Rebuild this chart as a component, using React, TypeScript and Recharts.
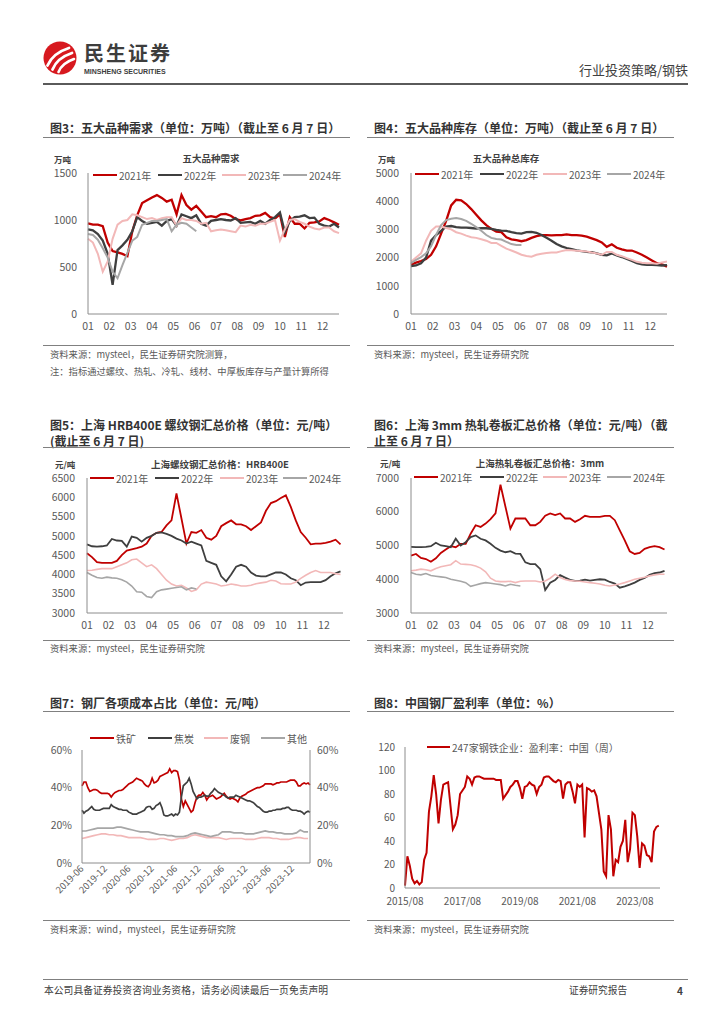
import React from 'react';
import { LineChart, Line, XAxis, YAxis } from 'recharts';

const FONT = '"Noto Sans CJK SC", "Noto Sans", sans-serif';
const RED = '#C00000';
const DARK = '#3F3F3F';
const PINK = '#F2B8B8';
const GRAY = '#A6A6A6';
const AXIS = '#8C8C8C';
const TICK = '#595959';
const RULE = '#808080';

// ---------- shared tick labels ----------
const MONTHS = ['01', '02', '03', '04', '05', '06', '07', '08', '09', '10', '11', '12'];
const YEARS = ['2021年', '2022年', '2023年', '2024年'];
const WEEKS_PER_YEAR = 52;

// ---------- 图3 五大品种需求 (万吨, weekly) ----------
const demand2021 = [965, 950, 950, 935, 760, 670, 655, 640, 615, 880, 1050, 1180, 1210, 1240, 1265, 1235, 1195, 1215, 1060, 1265, 1160, 1110, 1150, 1090, 1030, 1040, 1030, 1060, 1065, 1045, 1010, 995, 1010, 1020, 1045, 1050, 1075, 1030, 1015, 1060, 820, 1030, 960, 960, 910, 970, 975, 985, 1020, 1000, 975, 950];
const demand2022 = [900, 890, 850, 780, 640, 310, 680, 730, 790, 880, 1030, 990, 960, 970, 980, 940, 990, 1010, 940, 1060, 1040, 1020, 1050, 960, 940, 990, 1000, 1010, 1000, 995, 1020, 970, 975, 980, 960, 990, 960, 1000, 1030, 1080, 870, 990, 1030, 1035, 1050, 1020, 1025, 960, 940, 930, 960, 920];
const demand2023 = [800, 760, 640, 450, 560, 800, 950, 990, 1000, 1060, 1050, 1030, 1010, 1020, 1000, 1020, 1030, 1030, 940, 1020, 1000, 1000, 990, 960, 970, 880, 890, 900, 890, 880, 870, 940, 930, 950, 940, 960, 960, 980, 1000, 780, 900, 1000, 1010, 980, 960, 930, 910, 900, 920, 920, 880, 860];
const demand2024 = [850, 840, 790, 700, 600, 450, 380, 520, 650, 780, 820, 950, 970, 990, 990, 1000, 1010, 880, 950, 970, 960, 920, 880];

// ---------- 图4 五大品种总库存 (万吨, weekly) ----------
const stock2021 = [1750, 1820, 1880, 1950, 2100, 2400, 2850, 3300, 3850, 4050, 4030, 3900, 3720, 3520, 3320, 3150, 3020, 2920, 2900, 2720, 2650, 2620, 2580, 2620, 2700, 2760, 2800, 2800, 2790, 2800, 2800, 2820, 2800, 2800, 2780, 2740, 2680, 2620, 2540, 2380, 2470, 2350, 2290, 2250, 2250, 2180, 2100, 2000, 1900, 1800, 1760, 1680];
const stock2022 = [1700, 1720, 1800, 2000, 2600, 2800, 2950, 3100, 3120, 3080, 3060, 3060, 3050, 3030, 3040, 3040, 3020, 2980, 2960, 2950, 2900, 2870, 2850, 2900, 2910, 2880, 2800, 2700, 2600, 2480, 2400, 2340, 2300, 2260, 2230, 2200, 2190, 2150, 2100, 2080, 2150, 2080, 2020, 1950, 1880, 1800, 1760, 1740, 1740, 1730, 1720, 1730];
const stock2023 = [1850, 2000, 2150, 2600, 2950, 3100, 3100, 3050, 3000, 2900, 2850, 2780, 2720, 2700, 2650, 2600, 2520, 2520, 2420, 2320, 2250, 2180, 2100, 2060, 2030, 2100, 2140, 2160, 2180, 2180, 2230, 2270, 2260, 2240, 2230, 2220, 2180, 2150, 2100, 2200, 2200, 2100, 2050, 1980, 1920, 1850, 1820, 1800, 1800, 1780, 1830, 1860];
const stock2024 = [1800, 1920, 2020, 2150, 2400, 2800, 3150, 3330, 3380, 3400, 3370, 3300, 3200, 3080, 2950, 2800, 2700, 2660, 2640, 2560, 2480, 2450, 2450];

// ---------- 图5 上海螺纹钢 HRB400E (元/吨, weekly) ----------
const rebar2021 = [4550, 4450, 4320, 4300, 4300, 4300, 4350, 4500, 4620, 4650, 4680, 4720, 4800, 5000, 5080, 5100, 5270, 5400, 6100, 5450, 4800, 5100, 5080, 5150, 4950, 4900, 5000, 5250, 5330, 5400, 5300, 5300, 5250, 5150, 5250, 5350, 5650, 5850, 5900, 5980, 6050, 5750, 5400, 5100, 4950, 4780, 4800, 4800, 4820, 4850, 4900, 4780];
const rebar2022 = [4780, 4730, 4720, 4730, 4750, 4920, 4880, 4870, 4720, 4980, 4950, 4850, 4950, 5000, 5080, 5090, 5050, 5000, 4930, 4880, 4800, 4850, 4800, 4750, 4350, 4300, 4250, 3950, 3820, 4000, 4200, 4250, 4200, 4050, 3970, 3950, 3950, 4000, 4050, 4050, 4000, 3900, 3850, 3720, 3790, 3800, 3800, 3800, 3850, 3950, 4030, 4080];
const rebar2023 = [4100, 4110, 4130, 4150, 4150, 4150, 4200, 4250, 4300, 4380, 4400, 4300, 4200, 4250, 4150, 4000, 3850, 3750, 3700, 3720, 3650, 3560, 3600, 3750, 3800, 3780, 3750, 3700, 3720, 3750, 3730, 3700, 3700, 3720, 3760, 3780, 3800, 3850, 3830, 3760, 3750, 3750, 3800, 3900, 3980, 4050, 4100, 4050, 4050, 4050, 4020, 4000];
const rebar2024 = [4050, 3980, 3920, 3900, 3930, 3910, 3900, 3860, 3800, 3700, 3550, 3540, 3430, 3400, 3550, 3600, 3620, 3640, 3660, 3680, 3600, 3650, 3620];

// ---------- 图6 上海热轧卷板 3mm (元/吨, weekly) ----------
const hrc2021 = [4700, 4750, 4630, 4600, 4520, 4620, 4780, 4880, 4980, 4950, 5050, 5050, 5350, 5600, 5550, 5650, 5780, 5950, 6800, 6150, 5500, 5800, 5800, 5800, 5600, 5600, 5700, 5880, 5950, 5900, 5950, 5800, 5800, 5700, 5780, 5880, 5850, 5850, 5850, 5880, 5880, 5750, 5450, 5150, 4830, 4750, 4780, 4900, 4950, 4980, 4950, 4880];
const hrc2022 = [4960, 4950, 4950, 4960, 4980, 5080, 5000, 4980, 4950, 5200, 5000, 5100, 5250, 5300, 5200, 5150, 5050, 4930, 4850, 4800, 4830, 4760, 4750, 4500, 4450, 4450, 4300, 3680, 3900, 3980, 4120, 4050, 3980, 3950, 3960, 3990, 3960, 3980, 4000, 3990, 3920, 3870, 3750, 3790, 3840, 3900, 3980, 4040, 4130, 4180, 4200, 4250];
const hrc2023 = [4250, 4270, 4300, 4280, 4250, 4320, 4370, 4400, 4430, 4550, 4450, 4440, 4430, 4390, 4330, 4220, 4030, 3950, 3930, 3930, 3940, 3900, 3940, 3950, 3950, 3950, 3920, 3950, 4030, 4150, 4050, 3990, 3960, 3950, 3940, 3920, 3900, 3880, 3860, 3820, 3800, 3830, 3860, 3900, 3950, 4000, 4030, 4060, 4100, 4130, 4150, 4150];
const hrc2024 = [4200, 4150, 4130, 4170, 4110, 4090, 4070, 4050, 4000, 3970, 3940, 3900, 3790, 3830, 3870, 3900, 3880, 3860, 3840, 3800, 3850, 3820, 3800];

// ---------- 图7 钢厂各项成本占比 (%, from 2019-06) ----------
const C7_LABELS = ['2019-06', '2019-12', '2020-06', '2020-12', '2021-06', '2021-12', '2022-06', '2022-12', '2023-06', '2023-12'];
const C7_NAMES = ['铁矿', '焦炭', '废钢', '其他'];
// half-monthly
const costIron = [41, 43, 43, 40, 38, 38.5, 39, 39, 38.5, 37.5, 37, 37, 37, 37, 36.5, 35, 36.5, 37.5, 38, 38.5, 38.5, 39, 40, 41, 42, 42.5, 43, 44, 45, 44.5, 44, 43.5, 42, 41, 40.5, 42, 45, 42.5, 43, 44, 46, 46.5, 47, 47.5, 48, 50, 48, 49, 49, 48.5, 44, 34, 30, 33, 31, 29, 27, 28, 32, 35, 36, 36, 37.5, 36, 33.5, 35, 35.5, 36, 35, 34, 34.5, 35, 36, 37, 35.5, 34.5, 34, 34.5, 34, 33.5, 32.5, 34.5, 35.5, 36, 36.5, 37.5, 38, 38.5, 39, 39.5, 40, 40, 40.5, 41, 42, 42, 42, 42, 41.5, 42, 42.5, 42.5, 43, 43, 43, 43, 43.5, 44, 44, 44, 43, 41, 41, 42, 42.5, 42, 42.5, 41.5];
const costCoke = [28, 26.5, 27.5, 28, 29, 30, 28.5, 28, 28, 28, 28.5, 29, 29, 29, 29, 31, 30, 29.5, 29, 28.5, 28.5, 28, 28, 28, 27, 26.5, 26, 26, 26, 26.5, 27, 27.5, 28, 29.5, 30, 30, 28.5, 29, 30.5, 31, 32, 29.5, 25.5, 25, 25, 25.5, 26, 25, 26, 25.5, 27, 35, 41, 42, 43, 45, 42, 38, 36, 34, 35, 35, 35.5, 36, 35.5, 35.5, 37, 38, 39.5, 38.5, 37.5, 37, 36.5, 36, 35, 34.5, 35, 35, 35, 36, 35.5, 35, 34.5, 34, 33.5, 33, 33, 32.5, 32, 31, 30, 29.5, 28.5, 27.5, 27, 27, 27.5, 27.5, 28, 28, 28.5, 28.5, 28.5, 29, 29, 29.5, 29.5, 28.5, 28, 28, 28, 27.5, 27.5, 27, 26, 27, 27.5, 27];
// monthly
const costScrap = [13, 13.5, 14, 14.5, 15, 15.5, 15.5, 15, 15, 14.5, 14.5, 14, 13.5, 13.5, 13.5, 13.5, 13, 12.5, 12.5, 12.5, 13, 13, 12.5, 12, 12.5, 13, 13, 13.5, 14.5, 15, 14.5, 14, 13.5, 13.5, 13.5, 13.5, 13, 12.5, 13, 13, 13, 13, 12.5, 12.5, 12.5, 13, 13.5, 13.5, 13.5, 13, 13, 12.5, 12.5, 12.5, 13, 13.5, 13.5, 13, 13];
const costOther = [17, 17, 17.5, 18, 18.5, 18.5, 18.5, 18.5, 18.5, 19, 19, 18.5, 18, 17.5, 17, 16.5, 16.5, 16.5, 16, 15.5, 15, 15, 14.5, 14.5, 14, 14, 14, 14.5, 15.5, 16, 15.5, 15, 14.5, 14, 14.5, 15, 16.5, 16.5, 16.5, 16, 16, 16, 15.5, 15.5, 15.5, 16, 16.5, 17, 16.5, 16.5, 16, 16, 15.5, 15.5, 15.5, 16, 17.5, 16.5, 16.5];

// ---------- 图8 中国钢厂盈利率 (%, monthly from 2015/08) ----------
const C8_LABELS = ['2015/08', '2017/08', '2019/08', '2021/08', '2023/08'];
const C8_NAME = '247家钢铁企业：盈利率：中国（周）';
const profitRate = [2, 27, 19, 8, 4, 6, 3, 5, 24, 30, 65, 78, 96, 80, 55, 75, 88, 89, 90, 70, 50, 54, 62, 80, 83, 86, 95, 93, 88, 94, 95, 95, 94, 93, 93, 93, 93, 93, 92, 92, 92, 76, 79, 82, 86, 88, 91, 91, 85, 76, 86, 87, 90, 88, 87, 80, 86, 88, 94, 95, 95, 93, 91, 90, 92, 91, 76, 88, 90, 90, 82, 72, 88, 86, 88, 43, 85, 84, 82, 83, 78, 64, 50, 14, 10, 62, 50, 10, 24, 22, 35, 40, 58, 22, 33, 64, 62, 44, 17, 38, 36, 28, 27, 22, 48, 52, 53];

// ---------- helpers ----------
const SEASON_COLORS = [RED, DARK, PINK, GRAY];
const SEASON_WIDTHS = [2.3, 2.3, 2, 2];
const monthTicks = MONTHS.map((_, m) => (m * WEEKS_PER_YEAR) / 12);

function seasonRows(series: number[][]) {
  const n = Math.max(...series.map((a) => a.length));
  const rows: any[] = [];
  for (let i = 0; i < n; i++) {
    const r: any = { x: i };
    series.forEach((a, j) => {
      if (i < a.length) r['s' + j] = a[i];
    });
    rows.push(r);
  }
  return rows;
}

function Txt({ x, y, size = 10, bold = false, color = '#404040', align = 'left', lh = 1.5, children }: any) {
  const h = Math.round(size * lh);
  const style: any = {
    position: 'absolute',
    top: y - h / 2,
    height: h,
    lineHeight: h + 'px',
    fontSize: size,
    fontWeight: bold ? 700 : 400,
    color,
    whiteSpace: 'nowrap',
    fontFamily: FONT,
  };
  if (align === 'left') style.left = x;
  else if (align === 'right') style.right = 724 - x;
  else {
    style.left = x - 200;
    style.width = 400;
    style.textAlign = 'center';
  }
  return <div style={style}>{children}</div>;
}

function HLine({ x, y, w, h = 1, color = RULE }: any) {
  return <div style={{ position: 'absolute', left: x, top: y, width: w, height: h, background: color }} />;
}

function LegendItem({ x, y, color, label, size = 10, lw = 24 }: any) {
  return (
    <>
      <div style={{ position: 'absolute', left: x, top: y - 1.25, width: lw, height: 2.5, background: color }} />
      <Txt x={x + lw + 2} y={y} size={size} color={TICK}>{label}</Txt>
    </>
  );
}

function SeasonChart({ plot, series, yDomain, yTicks, xMax, yGap, widths = SEASON_WIDTHS }: any) {
  const yW = 44;
  const mt = 8;
  const mr = 6;
  const xH = 26;
  const rows = seasonRows(series);
  return (
    <div style={{ position: 'absolute', left: plot.L - yW, top: plot.T - mt }}>
      <LineChart
        width={plot.R - plot.L + yW + mr}
        height={plot.B - plot.T + mt + xH}
        data={rows}
        margin={{ top: mt, right: mr, bottom: 0, left: 0 }}
      >
        <XAxis
          type="number"
          dataKey="x"
          domain={[0, xMax]}
          ticks={monthTicks}
          interval={0}
          tickFormatter={(v: number) => MONTHS[Math.round((v * 12) / WEEKS_PER_YEAR)]}
          height={xH}
          axisLine={{ stroke: AXIS, strokeWidth: 1 }}
          tickLine={false}
          tickSize={0}
          tickMargin={9}
          tick={{ fontSize: 10.5, fill: TICK, fontFamily: FONT }}
        />
        <YAxis
          type="number"
          domain={yDomain}
          ticks={yTicks}
          interval={0}
          width={yW}
          axisLine={{ stroke: AXIS, strokeWidth: 1 }}
          tickLine={false}
          tickSize={0}
          tickMargin={yGap}
          tick={{ fontSize: 10.5, fill: TICK, fontFamily: FONT }}
        />
        {series.map((_: any, j: number) => (
          <Line
            key={j}
            type="linear"
            dataKey={'s' + j}
            stroke={SEASON_COLORS[j]}
            strokeWidth={widths[j]}
            dot={false}
            activeDot={false}
            isAnimationActive={false}
          />
        ))}
      </LineChart>
    </div>
  );
}

function SeasonLegend({ xs, y }: any) {
  return (
    <>
      {YEARS.map((label, j) => (
        <LegendItem key={label} x={xs[j]} y={y} color={SEASON_COLORS[j]} label={label} />
      ))}
    </>
  );
}

const RotTick = (props: any) => {
  const { x, y, payload } = props;
  const label = C7_LABELS[Math.round(payload.value / 6)];
  return (
    <g transform={`translate(${x},${y})`}>
      <text x={0} y={0} dy="0.35em" textAnchor="end" transform="rotate(-45)" fontSize={9.5} fill={TICK} fontFamily={FONT}>
        {label}
      </text>
    </g>
  );
};

function CostChart() {
  const plot = { L: 82, T: 750, R: 310, B: 863 };
  const yW = 34;
  const yWR = 34;
  const mt = 8;
  const xH = 46;
  const rows: any[] = [];
  for (let k = 0; k < costIron.length; k++) {
    const r: any = { x: k / 2, iron: costIron[k], coke: costCoke[k] };
    if (k % 2 === 0 && k / 2 < costScrap.length) {
      r.scrap = costScrap[k / 2];
      r.other = costOther[k / 2];
    }
    rows.push(r);
  }
  const xt = C7_LABELS.map((_, i) => i * 6);
  const yt = [0, 20, 40, 60];
  const tickStyle = { fontSize: 10.5, fill: TICK, fontFamily: FONT };
  return (
    <div style={{ position: 'absolute', left: plot.L - yW, top: plot.T - mt }}>
      <LineChart
        width={plot.R - plot.L + yW + yWR}
        height={plot.B - plot.T + mt + xH}
        data={rows}
        margin={{ top: mt, right: 0, bottom: 0, left: 0 }}
      >
        <XAxis
          type="number"
          dataKey="x"
          domain={[0, 58.5]}
          ticks={xt}
          interval={0}
          height={xH}
          axisLine={{ stroke: AXIS }}
          tickLine={false}
          tickSize={0}
          tickMargin={4}
          tick={<RotTick />}
        />
        <YAxis
          yAxisId="l"
          type="number"
          domain={[0, 60]}
          ticks={yt}
          interval={0}
          width={yW}
          tickFormatter={(v: number) => v + '%'}
          axisLine={{ stroke: AXIS }}
          tickLine={false}
          tickSize={0}
          tickMargin={10}
          tick={tickStyle}
        />
        <YAxis
          yAxisId="r"
          orientation="right"
          type="number"
          domain={[0, 60]}
          ticks={yt}
          interval={0}
          width={yWR}
          tickFormatter={(v: number) => v + '%'}
          axisLine={{ stroke: AXIS }}
          tickLine={false}
          tickSize={0}
          tickMargin={7}
          tick={{ ...tickStyle, textAnchor: 'start' }}
        />
        <Line yAxisId="l" type="linear" dataKey="iron" stroke={RED} strokeWidth={1.7} dot={false} activeDot={false} isAnimationActive={false} />
        <Line yAxisId="l" type="linear" dataKey="coke" stroke={DARK} strokeWidth={1.7} dot={false} activeDot={false} isAnimationActive={false} />
        <Line yAxisId="l" type="linear" dataKey="scrap" stroke={PINK} strokeWidth={1.7} dot={false} activeDot={false} connectNulls isAnimationActive={false} />
        <Line yAxisId="r" type="linear" dataKey="other" stroke={GRAY} strokeWidth={1.7} dot={false} activeDot={false} connectNulls isAnimationActive={false} />
      </LineChart>
    </div>
  );
}

function ProfitChart() {
  const plot = { L: 405, T: 747, R: 660, B: 888 };
  const yW = 34;
  const mt = 8;
  const mr = 10;
  const xH = 26;
  const rows = profitRate.map((v, k) => ({ x: k, v }));
  const xt = C8_LABELS.map((_, i) => i * 24);
  return (
    <div style={{ position: 'absolute', left: plot.L - yW, top: plot.T - mt }}>
      <LineChart
        width={plot.R - plot.L + yW + mr}
        height={plot.B - plot.T + mt + xH}
        data={rows}
        margin={{ top: mt, right: mr, bottom: 0, left: 0 }}
      >
        <XAxis
          type="number"
          dataKey="x"
          domain={[0, 106.5]}
          ticks={xt}
          interval={0}
          tickFormatter={(v: number) => C8_LABELS[Math.round(v / 24)]}
          height={xH}
          axisLine={{ stroke: AXIS }}
          tickLine={false}
          tickSize={0}
          tickMargin={10}
          tick={{ fontSize: 10, fill: TICK, fontFamily: FONT }}
        />
        <YAxis
          type="number"
          domain={[0, 120]}
          ticks={[0, 20, 40, 60, 80, 100, 120]}
          interval={0}
          width={yW}
          axisLine={{ stroke: AXIS }}
          tickLine={false}
          tickSize={0}
          tickMargin={10}
          tick={{ fontSize: 10, fill: TICK, fontFamily: FONT }}
        />
        <Line type="linear" dataKey="v" stroke={RED} strokeWidth={2} dot={false} activeDot={false} isAnimationActive={false} />
      </LineChart>
    </div>
  );
}

function Logo() {
  return (
    <svg width={34} height={34} viewBox="0 0 34 34" style={{ position: 'absolute', left: 43, top: 41 }}>
      <circle cx={17} cy={17} r={16.5} fill="#D7191F" />
      <path d="M4.5 24.5 Q10 12 26 7" stroke="#fff" strokeWidth={2.8} fill="none" strokeLinecap="round" />
      <path d="M9.5 28.5 Q14 17 29 12" stroke="#fff" strokeWidth={2.8} fill="none" strokeLinecap="round" />
      <path d="M15.5 31 Q19 22 31 18" stroke="#fff" strokeWidth={2.6} fill="none" strokeLinecap="round" />
    </svg>
  );
}

export default function App() {
  const titleSize = 12;
  const titleColor = '#333333';
  const srcSize = 9.3;
  const srcColor = '#595959';
  return (
    <div
      style={{
        position: 'absolute',
        left: 0,
        top: 0,
        width: 724,
        height: 1024,
        background: '#ffffff',
        overflow: 'hidden',
        fontFamily: FONT,
      }}
    >
      {/* header */}
      <Logo />
      <div
        style={{
          position: 'absolute',
          left: 84,
          top: 38,
          height: 29,
          lineHeight: '29px',
          fontSize: 20,
          fontWeight: 700,
          letterSpacing: 2,
          color: '#3d3d3d',
          fontFamily: FONT,
          whiteSpace: 'nowrap',
        }}
      >
        民生证券
      </div>
      <div
        style={{
          position: 'absolute',
          left: 84,
          top: 67.5,
          fontSize: 7,
          lineHeight: '8px',
          height: 8,
          fontWeight: 700,
          color: '#3d3d3d',
          fontFamily: '"Liberation Sans", Arial, sans-serif',
          whiteSpace: 'nowrap',
        }}
      >
        MINSHENG SECURITIES
      </div>
      <Txt x={688} y={70} size={13} color="#404040" align="right">行业投资策略/钢铁</Txt>
      <HLine x={43} y={83} w={645} h={1.5} color="#5a5a5a" />

      {/* 图3 */}
      <Txt x={50} y={128} size={titleSize} bold color={titleColor}>图3：五大品种需求（单位：万吨）（截止至 6 月 7 日）</Txt>
      <HLine x={43} y={137} w={307} />
      <Txt x={54} y={159} size={8.5} bold color="#404040">万吨</Txt>
      <Txt x={211} y={158} size={9.5} bold color="#404040" align="center">五大品种需求</Txt>
      <SeasonChart
        plot={{ L: 88, T: 173, R: 339, B: 314 }}
        series={[demand2021, demand2022, demand2023, demand2024]}
        yDomain={[0, 1500]}
        yTicks={[0, 500, 1000, 1500]}
        xMax={51}
        yGap={11}
      />
      <SeasonLegend xs={[93, 158, 222, 283]} y={175} />
      <HLine x={43} y={345} w={307} />
      <Txt x={50} y={354} size={srcSize} color={srcColor}>资料来源：mysteel，民生证券研究院测算，</Txt>
      <Txt x={50} y={371} size={srcSize} color={srcColor}>注：指标通过螺纹、热轧、冷轧、线材、中厚板库存与产量计算所得</Txt>

      {/* 图4 */}
      <Txt x={374} y={128} size={titleSize} bold color={titleColor}>图4：五大品种库存（单位：万吨）（截止至 6 月 7 日）</Txt>
      <HLine x={367} y={137} w={307} />
      <Txt x={378} y={159} size={8.5} bold color="#404040">万吨</Txt>
      <Txt x={506} y={158} size={9.5} bold color="#404040" align="center">五大品种总库存</Txt>
      <SeasonChart
        plot={{ L: 411, T: 173, R: 667, B: 314 }}
        series={[stock2021, stock2022, stock2023, stock2024]}
        yDomain={[0, 5000]}
        yTicks={[0, 1000, 2000, 3000, 4000, 5000]}
        xMax={51}
        yGap={12}
      />
      <SeasonLegend xs={[415, 480, 543, 607]} y={174} />
      <HLine x={367} y={345} w={307} />
      <Txt x={374} y={354} size={srcSize} color={srcColor}>资料来源：mysteel，民生证券研究院</Txt>

      {/* 图5 */}
      <Txt x={50} y={425} size={titleSize} bold color={titleColor}>图5：上海 HRB400E 螺纹钢汇总价格（单位：元/吨）</Txt>
      <Txt x={50} y={441} size={titleSize} bold color={titleColor}>(截止至 6 月 7 日)</Txt>
      <HLine x={43} y={447} w={307} />
      <Txt x={55} y={464} size={8.5} bold color="#404040">元/吨</Txt>
      <Txt x={220} y={464} size={9.5} bold color="#404040" align="center">上海螺纹钢汇总价格：HRB400E</Txt>
      <SeasonChart
        plot={{ L: 87, T: 478, R: 343, B: 613 }}
        series={[rebar2021, rebar2022, rebar2023, rebar2024]}
        yDomain={[3000, 6500]}
        yTicks={[3000, 3500, 4000, 4500, 5000, 5500, 6000, 6500]}
        xMax={51.5}
        yGap={12}
        widths={[1.8, 1.8, 1.6, 1.6]}
      />
      <SeasonLegend xs={[90, 155, 220, 283]} y={478} />
      <HLine x={43} y={640} w={307} />
      <Txt x={50} y={648} size={srcSize} color={srcColor}>资料来源：mysteel，民生证券研究院</Txt>

      {/* 图6 */}
      <Txt x={374} y={425} size={titleSize} bold color={titleColor}>图6：上海 3mm 热轧卷板汇总价格（单位：元/吨）（截</Txt>
      <Txt x={374} y={441} size={titleSize} bold color={titleColor}>止至 6 月 7 日）</Txt>
      <HLine x={367} y={447} w={307} />
      <Txt x={380} y={463} size={8.5} bold color="#404040">元/吨</Txt>
      <Txt x={540} y={463} size={9.5} bold color="#404040" align="center">上海热轧卷板汇总价格：3mm</Txt>
      <SeasonChart
        plot={{ L: 411, T: 478, R: 667, B: 613 }}
        series={[hrc2021, hrc2022, hrc2023, hrc2024]}
        yDomain={[3000, 7000]}
        yTicks={[3000, 4000, 5000, 6000, 7000]}
        xMax={51.5}
        yGap={12}
        widths={[1.8, 1.8, 1.6, 1.6]}
      />
      <SeasonLegend xs={[414, 480, 543, 607]} y={477} />
      <HLine x={367} y={640} w={307} />
      <Txt x={374} y={648} size={srcSize} color={srcColor}>资料来源：mysteel，民生证券研究院</Txt>

      {/* 图7 */}
      <Txt x={50} y={703} size={titleSize} bold color={titleColor}>图7：钢厂各项成本占比（单位：元/吨）</Txt>
      <HLine x={43} y={711} w={307} />
      <CostChart />
      {C7_NAMES.map((n, j) => (
        <LegendItem key={n} x={[90, 148, 204, 261][j]} y={738} color={SEASON_COLORS[j]} label={n} size={10} />
      ))}
      <HLine x={43} y={920} w={307} />
      <Txt x={50} y={929} size={srcSize} color={srcColor}>资料来源：wind，mysteel，民生证券研究院</Txt>

      {/* 图8 */}
      <Txt x={374} y={703} size={titleSize} bold color={titleColor}>图8：中国钢厂盈利率（单位：%）</Txt>
      <HLine x={367} y={711} w={307} />
      <ProfitChart />
      <LegendItem x={427} y={747} color={RED} label={C8_NAME} size={10} lw={23} />
      <HLine x={367} y={920} w={307} />
      <Txt x={374} y={929} size={srcSize} color={srcColor}>资料来源：mysteel，民生证券研究院</Txt>

      {/* footer */}
      <HLine x={43} y={979} w={645} h={1} color="#7f7f7f" />
      <Txt x={44} y={990} size={9.8} color="#404040">本公司具备证券投资咨询业务资格，请务必阅读最后一页免责声明</Txt>
      <Txt x={569} y={990} size={9.7} color="#404040">证券研究报告</Txt>
      <Txt x={677} y={990} size={10} bold color="#404040">4</Txt>
    </div>
  );
}
